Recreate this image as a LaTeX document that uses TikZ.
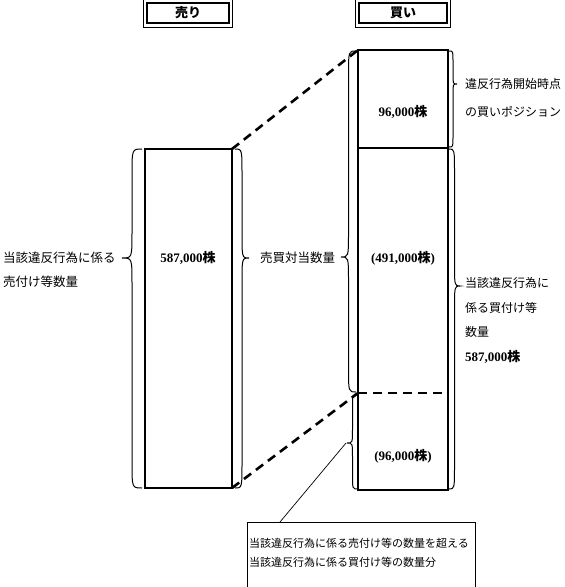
\documentclass[tikz,border=0pt]{standalone}
\usepackage{fontspec}
\newfontfamily\jp{Noto Sans CJK JP}
\newfontfamily\numf{Liberation Serif}
\newcommand{\kabu}[1]{{\numf\bfseries #1}{\jp\bfseries 株}}
\newcommand{\mybrace}[6]{%
  \pgfmathsetmacro\bxb{(#1+#2)/2}%
  \draw[braceline] (#1,#3) .. controls (\bxb,#3) .. (\bxb,#3+#6) -- (\bxb,#4-#6)
    .. controls (\bxb,#4) .. (#2,#4) .. controls (\bxb,#4) .. (\bxb,#4+#6)
    -- (\bxb,#5-#6) .. controls (\bxb,#5) .. (#1,#5);}
\begin{document}
\begin{tikzpicture}[x=1pt,y=-1pt,
  bar/.style={draw=black,line width=2.6pt},
  dashbar/.style={line width=2.6pt,dash pattern=on 9pt off 6pt},
  braceline/.style={line width=1pt},
  lab/.style={font=\jp\fontsize{12.5}{14}\selectfont,inner sep=0pt,anchor=west},
  small/.style={font=\jp\fontsize{11}{13}\selectfont,inner sep=0pt,anchor=west},
  num/.style={font=\fontsize{13}{15}\selectfont,inner sep=0pt},
  head/.style={font=\jp\bfseries\fontsize{13}{15}\selectfont,inner sep=0pt}]
\useasboundingbox (0,0) rectangle (565,587);
% headers
\draw[line width=0.8pt] (143,-2) rectangle (232,27);
\draw[line width=1.4pt] (147,3) rectangle (229,23);
\node[head] (hsell) at (188,13) {売り};
\draw[line width=0.8pt] (355,-2) rectangle (450,27);
\draw[line width=1.4pt] (359,3) rectangle (447,23);
\node[head] (hbuy) at (403,13) {買い};
% left bar
\coordinate (LTL) at (145,149); \coordinate (LTR) at (232,149);
\coordinate (LBL) at (145,488); \coordinate (LBR) at (232,488);
\draw[bar] (LTL) rectangle (LBR);
% right bar
\coordinate (RTL) at (358,50); \coordinate (RBR) at (448,490);
\coordinate (RDL) at (358,393); \coordinate (RDR) at (448,393);
\coordinate (RML) at (358,148); \coordinate (RMR) at (448,148);
\draw[bar] (RTL) rectangle (RBR);
\draw[bar] (RML) -- (RMR);
\draw[dashbar] (RDL) -- (RDR);
% dashed projections
\draw[dashbar] (LTR) -- (RTL);
\draw[dashbar] (LBR) -- (RDL);
% braces
\mybrace{142}{122}{149}{258}{488}{26}
\mybrace{235}{249}{149}{258}{488}{26}
\mybrace{356}{341}{51}{257}{392}{24}
\mybrace{358}{347}{394}{443}{489}{14}
\mybrace{449}{457}{51}{84}{147}{10}
\mybrace{449}{460}{149}{286}{489}{24}
% bar texts
\node[num] (n1) at (188,258) {\kabu{587,000}};
\node[num] (n2) at (403,112) {\kabu{96,000}};
\node[num] (n3) at (403,258) {{\numf\bfseries (491,000}{\jp\bfseries 株}{\numf\bfseries )}};
\node[num] (n4) at (403,456) {{\numf\bfseries (96,000}{\jp\bfseries 株}{\numf\bfseries )}};
% labels
\node[lab] (l1) at (3,258) {当該違反行為に係る};
\node[lab] (l2) at (3,282) {売付け等数量};
\node[lab] (l3) at (260,258) {売買対当数量};
\node[lab,font=\jp\fontsize{12}{14}\selectfont] (l4) at (465,84) {違反行為開始時点};
\node[lab,font=\jp\fontsize{12}{14}\selectfont] (l5) at (465,112) {の買いポジション};
\node[lab,font=\jp\fontsize{12}{14}\selectfont] (l6) at (465,283) {当該違反行為に};
\node[lab,font=\jp\fontsize{12}{14}\selectfont] (l7) at (465,308) {係る買付け等};
\node[lab,font=\jp\fontsize{12}{14}\selectfont] (l8) at (465,332) {数量};
\node[num,anchor=west] (l9) at (465,357) {\kabu{587,000}};
% callout
\draw[line width=0.6pt] (247,590) -- (247,522) -- (475,522) -- (475,590);
\node[small] (c1) at (249,543) {当該違反行為に係る売付け等の数量を超える};
\node[small] (c2) at (249,562) {当該違反行為に係る買付け等の数量分};
\coordinate (tip) at (346,443);
\coordinate (cend) at (280,522);
\draw[line width=0.7pt] (tip) -- (cend);
\end{tikzpicture}
\end{document}
